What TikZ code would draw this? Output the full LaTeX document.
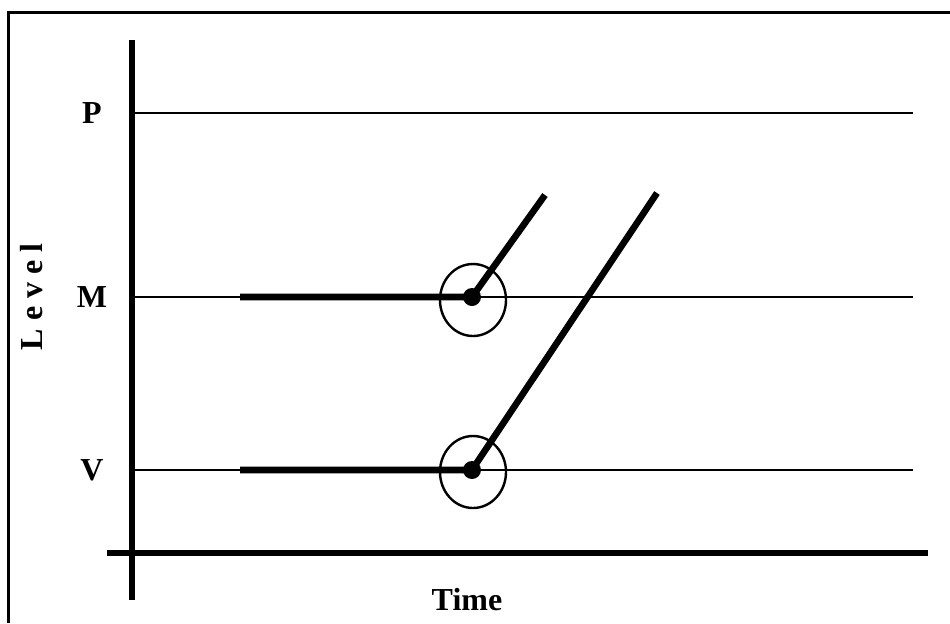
\documentclass[tikz,border=0pt]{standalone}
\usepackage{fontspec}
\setmainfont{Liberation Serif}
\usepackage{tikz}
\usetikzlibrary{positioning,calc}

\begin{document}
\begin{tikzpicture}[
  x=0.5pt, y=-0.5pt,
  font=\fontsize{16}{19}\selectfont\bfseries,
  frameline/.style={line width=1.5pt, black},
  axis/.style={line width=3pt, black},
  levelline/.style={line width=0.7pt, black},
  trace/.style={line width=3.3pt, black},
  marker/.style={line width=1.2pt, black},
  lbl/.style={inner sep=0pt}
]
\useasboundingbox (0,0) rectangle (950,623);

% Rahmen (nur links und oben)
\draw[frameline] (8,623) -- (8,12) -- (950,12);

% Achsen
\coordinate (ytop) at (132,40);
\coordinate (ybot) at (132,600);
\coordinate (xl) at (107,553);
\coordinate (xr) at (928,553);
\draw[axis] (ybot) -- (ytop);
\draw[axis] (xl) -- (xr);

% Niveaus P, M, V
\foreach \name/\y in {P/113, M/297, V/470} {
  \draw[levelline] (135,\y) -- (913,\y);
  \node[lbl] (lab\name) at (92,\y) {\name};
}

\node[lbl, rotate=90] (level) at (32,297) {\addfontfeature{LetterSpace=25}Level};
\node[lbl] (time) at (467,600) {Time};

% Verlauf M
\coordinate (mstart) at (240,297);
\coordinate (mknee) at (472,297);
\coordinate (mend) at (545,195);
\draw[trace] (mstart) -- (mknee) -- (mend);
\fill (mknee) circle[radius=9];
\draw[marker] ($(mknee)+(1,3)$) ellipse[x radius=33, y radius=36];

% Verlauf V
\coordinate (vstart) at (240,470);
\coordinate (vknee) at (472,470);
\coordinate (vend) at (657,193);
\draw[trace] (vstart) -- (vknee) -- (vend);
\fill (vknee) circle[radius=9];
\draw[marker] ($(vknee)+(1,2)$) ellipse[x radius=33, y radius=36];

\end{tikzpicture}
\end{document}
